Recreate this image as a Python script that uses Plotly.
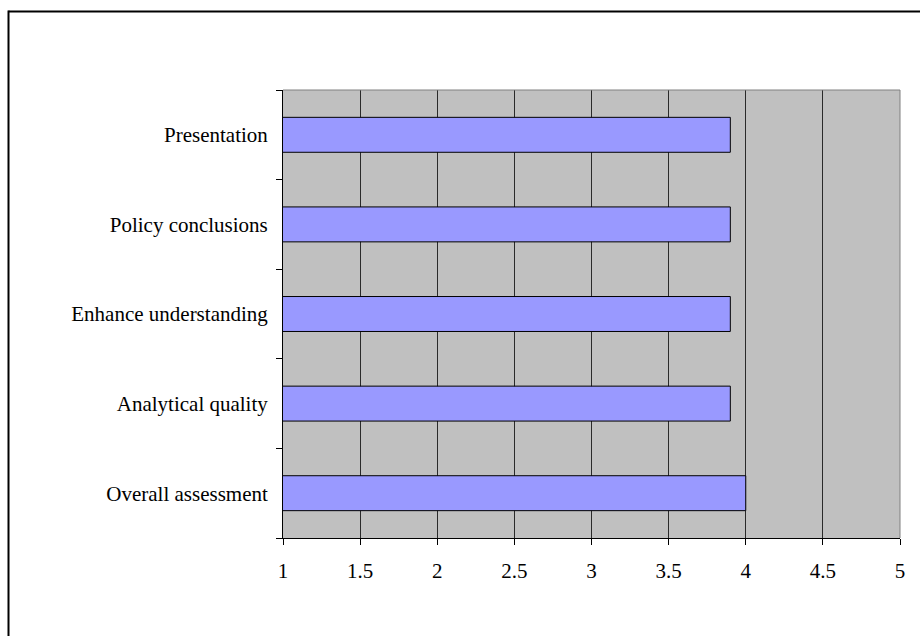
import plotly.graph_objects as go

# Survey ratings, listed bottom to top
categories = [
    "Overall assessment",
    "Analytical quality",
    "Enhance understanding",
    "Policy conclusions",
    "Presentation",
]
scores = [4.0, 3.9, 3.9, 3.9, 3.9]
x_ticks = [1, 1.5, 2, 2.5, 3, 3.5, 4, 4.5, 5]
x_tick_labels = ["1", "1.5", "2", "2.5", "3", "3.5", "4", "4.5", "5"]

W, H = 920, 636
ML, MR, MT, MB = 283, 20, 90, 98
PW, PH = W - ML - MR, H - MT - MB


def px_to_paper_x(px):
    return (px - ML) / PW


def px_to_paper_y(py):
    return (H - MB - py) / PH


font = dict(family="Liberation Serif, Times New Roman, serif", size=21, color="black")

fig = go.Figure(
    go.Bar(
        y=categories,
        x=scores,
        orientation="h",
        marker=dict(color="#9999FF", line=dict(color="black", width=1)),
        width=0.39,
        hoverinfo="x+y",
    )
)

fig.update_layout(
    width=W,
    height=H,
    margin=dict(l=ML, r=MR, t=MT, b=MB, pad=0),
    paper_bgcolor="white",
    plot_bgcolor="#C0C0C0",
    font=font,
    showlegend=False,
    xaxis=dict(
        range=[1, 5],
        tickvals=x_ticks,
        ticktext=x_tick_labels,
        showgrid=True,
        gridcolor="#2a2a2a",
        gridwidth=1,
        zeroline=False,
        showline=True,
        linecolor="black",
        linewidth=1,
        ticks="outside",
        ticklen=6,
        tickcolor="black",
        tickfont=font,
        ticklabelstandoff=8,
        fixedrange=True,
    ),
    yaxis=dict(
        type="category",
        categoryorder="array",
        categoryarray=categories,
        showgrid=False,
        zeroline=False,
        showline=True,
        linecolor="black",
        linewidth=1,
        ticks="outside",
        tickson="boundaries",
        ticklen=6,
        tickcolor="black",
        tickfont=font,
        ticklabelstandoff=10,
        fixedrange=True,
    ),
    shapes=[
        # grey plot-area frame on the top and right
        dict(type="line", xref="paper", yref="paper", x0=0, x1=1, y0=1, y1=1,
             line=dict(color="#808080", width=1), layer="above"),
        dict(type="line", xref="paper", yref="paper", x0=1, x1=1, y0=0, y1=1,
             line=dict(color="#808080", width=1), layer="above"),
        # outer chart frame (top and left edges fall inside the page)
        dict(type="line", xref="paper", yref="paper",
             x0=px_to_paper_x(8.5), x1=px_to_paper_x(930),
             y0=px_to_paper_y(11.5), y1=px_to_paper_y(11.5),
             line=dict(color="black", width=2)),
        dict(type="line", xref="paper", yref="paper",
             x0=px_to_paper_x(8.5), x1=px_to_paper_x(8.5),
             y0=px_to_paper_y(10.5), y1=px_to_paper_y(650),
             line=dict(color="black", width=2)),
    ],
)

fig.write_html("out.html")
